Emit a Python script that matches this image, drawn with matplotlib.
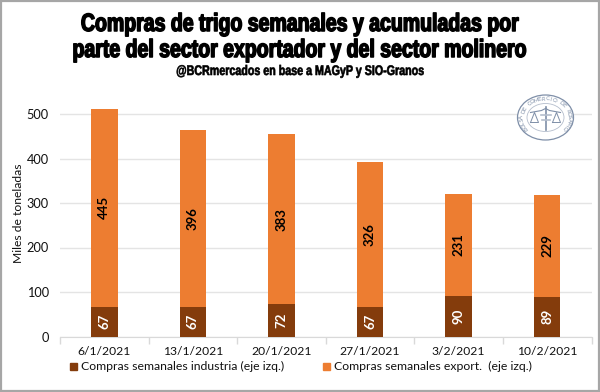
import numpy as np
import matplotlib
matplotlib.use("Agg")
import matplotlib.pyplot as plt
from matplotlib.patches import Rectangle, Ellipse
from matplotlib.patheffects import AbstractPathEffect
from matplotlib.transforms import Affine2D

fechas = ["6/1/2021", "13/1/2021", "20/1/2021", "27/1/2021", "3/2/2021", "10/2/2021"]
industria = [67, 67, 72, 67, 90, 89]
exportador = [445, 396, 383, 326, 231, 229]
yticks = [0, 100, 200, 300, 400, 500]
sello = "BOLSA DE COMERCIO DE ROSARIO"

W, H = 600, 392
BODY = ["Lato", "DejaVu Sans"]
TITLE = ["Liberation Sans", "DejaVu Sans"]


class Squeeze(AbstractPathEffect):
    """Condensa horizontalmente el texto alrededor de cx y lo engrosa."""
    def __init__(self, cx, sx, lw):
        super().__init__()
        self.cx, self.sx, self.lw = cx, sx, lw

    def draw_path(self, renderer, gc, tpath, affine, rgbFace=None):
        a = affine + Affine2D().translate(-self.cx, 0).scale(self.sx, 1).translate(self.cx, 0)
        gc0 = renderer.new_gc()
        gc0.copy_properties(gc)
        gc0.set_linewidth(self.lw)
        gc0.set_foreground(rgbFace)
        renderer.draw_path(gc0, tpath, a, rgbFace)
        gc0.restore()


fig = plt.figure(figsize=(W/100, H/100), dpi=100, facecolor="white")
TOP = 336.5 - 0.445*515
ax = fig.add_axes([60/W, 1-336.5/H, (591.5-60)/W, (336.5-TOP)/H])
x = np.arange(len(fechas))
C1, C2 = "#843C0C", "#ED7D31"
ax.bar(x, industria, 0.3, color=C1, zorder=3)
ax.bar(x, exportador, 0.3, bottom=industria, color=C2, zorder=3)
for xi, a, b in zip(x, industria, exportador):
    ax.text(xi, a/2, str(a), rotation=90, color="white", ha="center", va="center",
            fontsize=9.5, fontweight="bold", family=BODY, zorder=4)
    ax.text(xi, a+b/2, str(b), rotation=90, color="black", ha="center", va="center",
            fontsize=9.5, fontweight="bold", family=BODY, zorder=4)
ax.set_xlim(-0.5, 5.5)
ax.set_ylim(0, 515)
ax.set_yticks(yticks)
ax.set_xticks(np.arange(-0.5, 6, 1), minor=False)
ax.set_xticklabels([])
ax.set_xticks(x, fechas, minor=True, family=BODY, fontsize=8.7, color="#111111")
ax.tick_params(axis="x", which="major", length=5, color="#D9D9D9", width=1)
ax.tick_params(axis="x", which="minor", length=0, pad=7)
ax.tick_params(axis="y", length=0, pad=8, labelsize=9.2, labelcolor="#111111")
for t in ax.get_yticklabels():
    t.set_family(BODY)
ax.grid(axis="y", color="#E4E4E4", lw=1, zorder=0)
for s in ["top", "right", "left"]:
    ax.spines[s].set_visible(False)
ax.spines["bottom"].set_color("#D9D9D9")
fig.text(19/W, 1-213/H, "Miles de toneladas", rotation=90, ha="center", va="center",
         fontsize=8.7, family=BODY, color="#111111")

# leyenda
for px, col, txt in [(70, C1, "Compras semanales industria (eje izq.)"),
                     (323, C2, "Compras semanales export.  (eje izq.)")]:
    fig.add_artist(Rectangle((px/W, 1-370/H), 7/W, 7/H, transform=fig.transFigure, color=col))
    fig.text((px+11)/W, 1-366/H, txt, ha="left", va="center", fontsize=8.8, family=BODY, color="#111111")

# titulos
kw = dict(ha="center", va="center", family=TITLE, fontweight="bold", color="black")
fig.text(300/W, 1-24/H, "Compras de trigo semanales y acumuladas por", fontsize=18,
         path_effects=[Squeeze(300, 0.78, 1.1)], **kw)
fig.text(300/W, 1-50/H, "parte del sector exportador y del sector molinero", fontsize=18,
         path_effects=[Squeeze(300, 0.78, 1.1)], **kw)
fig.text(300/W, 1-71/H, "@BCRmercados en base a MAGyP y SIO-Granos", fontsize=10,
         path_effects=[Squeeze(300, 0.77, 0.45)], **kw)

# sello
ov = fig.add_axes([0, 0, 1, 1], facecolor="none")
ov.set_xlim(0, W); ov.set_ylim(H, 0); ov.axis("off")
cx, cy = 545.5, 117.5
LOGO = "#7F8FA8"
SOFT = "#B4BDCC"
ov.add_patch(Ellipse((cx, cy), 56, 45, fc="white", ec=LOGO, lw=0.9, zorder=5))
ov.add_patch(Ellipse((cx, cy), 37, 28, fc="white", ec=SOFT, lw=0.6, zorder=5))
angs = np.linspace(215, -35, len(sello))
for ch, a in zip(sello, angs):
    r = np.radians(a)
    ov.text(cx+23.5*np.cos(r), cy-18.5*np.sin(r), ch, fontsize=4.2, color=LOGO,
            rotation=a-90, ha="center", va="center", family=BODY, zorder=6)
# balanzas, alas y vara
ov.plot([cx-15, cx-4, cx, cx+4, cx+15], [cy-5, cy-7, cy-9, cy-7, cy-5], color=LOGO, lw=0.8, zorder=6)
ov.plot([cx, cx], [cy-11, cy+12], color=LOGO, lw=1.2, zorder=6)
for sx in (-11, 11):
    ov.plot([cx+sx-4, cx+sx, cx+sx+4, cx+sx-4], [cy+5, cy-5, cy+5, cy+5], color=LOGO, lw=0.7, zorder=6)
ov.plot([cx-5, cx+5], [cy-3, cy-3], color=SOFT, lw=1.2, zorder=6)
ov.plot([cx-4, cx+4], [cy+2, cy+2], color=SOFT, lw=1.2, zorder=6)

# borde
ov.add_patch(Rectangle((0.5, 0.5), W-1.5, H-1.5, fc="none", ec="#A6A6A6", lw=1.6, zorder=10, clip_on=False))
fig.savefig("out.png", dpi=100, facecolor="white")
